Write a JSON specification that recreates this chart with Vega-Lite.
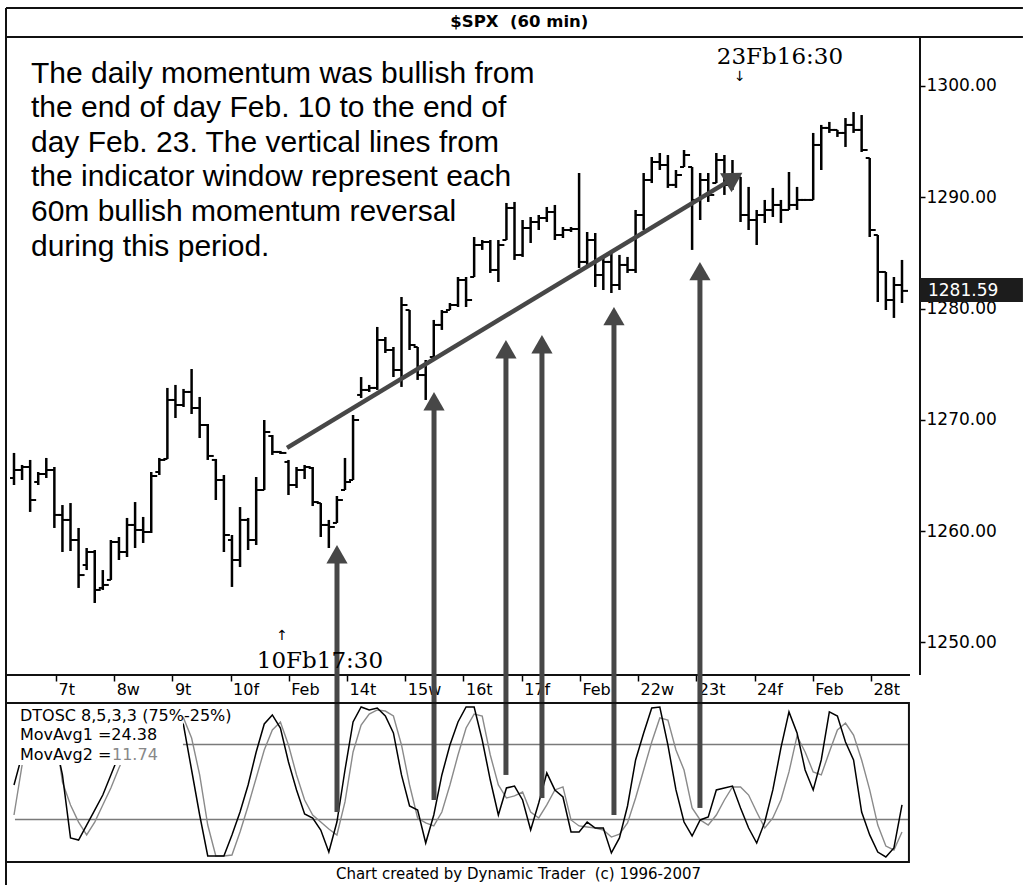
{
  "$schema": "https://vega.github.io/schema/vega-lite/v6.json",
  "background": "white",
  "width": 914,
  "height": 638,
  "autosize": {"type": "none"},
  "padding": {"left": 6, "top": 37, "right": 103, "bottom": 210},
  "datasets": {
    "bars": [
      {"i":0,"o":1264.78,"h":1267.03,"l":1264.15,"c":1265.5},
      {"i":1,"o":1265.5,"h":1265.95,"l":1264.6,"c":1265.77},
      {"i":2,"o":1265.77,"h":1266.4,"l":1261.73,"c":1262.8},
      {"i":3,"o":1264.42,"h":1265.32,"l":1264.15,"c":1265.14},
      {"i":4,"o":1265.14,"h":1266.58,"l":1264.78,"c":1265.5},
      {"i":5,"o":1265.5,"h":1265.77,"l":1260.29,"c":1261.46},
      {"i":6,"o":1261.46,"h":1262.35,"l":1258.13,"c":1261.01},
      {"i":7,"o":1261.01,"h":1262.53,"l":1258.22,"c":1259.21},
      {"i":8,"o":1259.21,"h":1260.29,"l":1254.9,"c":1256.06},
      {"i":9,"o":1256.96,"h":1258.49,"l":1256.51,"c":1258.13},
      {"i":10,"o":1258.13,"h":1258.31,"l":1253.55,"c":1254.72},
      {"i":11,"o":1254.9,"h":1256.51,"l":1254.72,"c":1255.17},
      {"i":12,"o":1255.62,"h":1259.21,"l":1255.62,"c":1259.03},
      {"i":13,"o":1259.03,"h":1259.48,"l":1257.41,"c":1258.13},
      {"i":14,"o":1258.13,"h":1261.19,"l":1257.68,"c":1260.56},
      {"i":15,"o":1260.56,"h":1262.62,"l":1258.49,"c":1260.11},
      {"i":16,"o":1260.11,"h":1261.28,"l":1258.94,"c":1259.93},
      {"i":17,"o":1259.93,"h":1265.32,"l":1259.84,"c":1264.96},
      {"i":18,"o":1265.32,"h":1266.58,"l":1265.05,"c":1266.4},
      {"i":19,"o":1266.49,"h":1272.87,"l":1266.49,"c":1271.79},
      {"i":20,"o":1271.79,"h":1273.14,"l":1270.17,"c":1271.34},
      {"i":21,"o":1271.34,"h":1272.78,"l":1271.16,"c":1272.51},
      {"i":22,"o":1272.51,"h":1274.57,"l":1270.53,"c":1271.07},
      {"i":23,"o":1271.07,"h":1272.06,"l":1268.37,"c":1269.54},
      {"i":24,"o":1269.54,"h":1269.63,"l":1266.4,"c":1266.76},
      {"i":25,"o":1266.4,"h":1266.49,"l":1262.8,"c":1264.6},
      {"i":26,"o":1264.6,"h":1265.05,"l":1258.13,"c":1259.66},
      {"i":27,"o":1259.21,"h":1259.66,"l":1254.99,"c":1257.41},
      {"i":28,"o":1257.41,"h":1262.17,"l":1256.78,"c":1261.01},
      {"i":29,"o":1261.01,"h":1261.19,"l":1258.31,"c":1259.21},
      {"i":30,"o":1259.21,"h":1264.87,"l":1258.76,"c":1263.7},
      {"i":31,"o":1263.7,"h":1269.99,"l":1263.7,"c":1268.91},
      {"i":32,"o":1268.55,"h":1268.64,"l":1266.85,"c":1267.12},
      {"i":33,"o":1267.12,"h":1267.21,"l":1266.94,"c":1267.03},
      {"i":34,"o":1266.22,"h":1266.4,"l":1263.25,"c":1264.15},
      {"i":35,"o":1264.15,"h":1265.77,"l":1263.88,"c":1265.5},
      {"i":36,"o":1265.5,"h":1265.95,"l":1264.69,"c":1265.77},
      {"i":37,"o":1265.68,"h":1265.77,"l":1262.26,"c":1262.62},
      {"i":38,"o":1262.53,"h":1262.53,"l":1259.48,"c":1260.56},
      {"i":39,"o":1260.56,"h":1261.01,"l":1258.49,"c":1260.38},
      {"i":40,"o":1260.74,"h":1263.16,"l":1260.74,"c":1262.8},
      {"i":41,"o":1263.7,"h":1266.58,"l":1263.7,"c":1264.42},
      {"i":42,"o":1264.6,"h":1270.44,"l":1264.6,"c":1269.99},
      {"i":43,"o":1272.24,"h":1273.85,"l":1271.97,"c":1272.69},
      {"i":44,"o":1272.69,"h":1273.14,"l":1272.51,"c":1272.87},
      {"i":45,"o":1272.87,"h":1278.35,"l":1272.69,"c":1277.18},
      {"i":46,"o":1277.18,"h":1277.45,"l":1276.01,"c":1276.28},
      {"i":47,"o":1276.28,"h":1276.55,"l":1273.85,"c":1274.48},
      {"i":48,"o":1274.48,"h":1281.04,"l":1272.96,"c":1280.32},
      {"i":49,"o":1279.87,"h":1279.87,"l":1276.28,"c":1276.73},
      {"i":50,"o":1276.55,"h":1276.55,"l":1273.59,"c":1274.03},
      {"i":51,"o":1274.03,"h":1275.38,"l":1271.79,"c":1275.2},
      {"i":52,"o":1275.65,"h":1278.98,"l":1275.65,"c":1278.53},
      {"i":53,"o":1278.53,"h":1279.87,"l":1278.08,"c":1279.69},
      {"i":54,"o":1279.87,"h":1280.5,"l":1279.87,"c":1280.32},
      {"i":55,"o":1280.32,"h":1282.84,"l":1280.14,"c":1282.57},
      {"i":56,"o":1282.57,"h":1282.84,"l":1280.14,"c":1280.77},
      {"i":57,"o":1282.84,"h":1286.43,"l":1282.84,"c":1285.71},
      {"i":58,"o":1285.71,"h":1286.16,"l":1285.27,"c":1285.98},
      {"i":59,"o":1285.98,"h":1286.16,"l":1283.2,"c":1283.47},
      {"i":60,"o":1283.47,"h":1286.16,"l":1282.39,"c":1285.71},
      {"i":61,"o":1286.16,"h":1289.49,"l":1286.16,"c":1289.04},
      {"i":62,"o":1289.04,"h":1289.58,"l":1284.37,"c":1284.82},
      {"i":63,"o":1284.82,"h":1287.96,"l":1284.64,"c":1287.24},
      {"i":64,"o":1287.24,"h":1288.23,"l":1285.89,"c":1287.78},
      {"i":65,"o":1287.78,"h":1288.41,"l":1287.06,"c":1288.14},
      {"i":66,"o":1288.14,"h":1289.13,"l":1287.78,"c":1288.68},
      {"i":67,"o":1288.68,"h":1289.31,"l":1286.16,"c":1286.61},
      {"i":68,"o":1286.61,"h":1287.33,"l":1286.34,"c":1287.06},
      {"i":69,"o":1287.06,"h":1287.33,"l":1286.88,"c":1287.15},
      {"i":70,"o":1287.15,"h":1292.18,"l":1283.65,"c":1284.19},
      {"i":71,"o":1284.19,"h":1286.88,"l":1283.92,"c":1286.16},
      {"i":72,"o":1286.16,"h":1286.79,"l":1281.94,"c":1283.02},
      {"i":73,"o":1283.02,"h":1284.64,"l":1281.67,"c":1284.19},
      {"i":74,"o":1284.19,"h":1285.09,"l":1281.4,"c":1282.12},
      {"i":75,"o":1282.12,"h":1284.82,"l":1281.67,"c":1283.92},
      {"i":76,"o":1283.92,"h":1284.64,"l":1283.2,"c":1283.47},
      {"i":77,"o":1283.47,"h":1288.86,"l":1283.2,"c":1288.41},
      {"i":78,"o":1288.41,"h":1292.18,"l":1287.06,"c":1291.55},
      {"i":79,"o":1291.55,"h":1293.62,"l":1291.28,"c":1293.17},
      {"i":80,"o":1293.17,"h":1293.98,"l":1292.45,"c":1292.9},
      {"i":81,"o":1292.9,"h":1293.8,"l":1290.84,"c":1291.11},
      {"i":82,"o":1291.11,"h":1292.45,"l":1290.84,"c":1292.0},
      {"i":83,"o":1292.72,"h":1294.25,"l":1292.72,"c":1293.8},
      {"i":84,"o":1292.72,"h":1292.72,"l":1285.27,"c":1289.76},
      {"i":85,"o":1289.76,"h":1292.18,"l":1287.96,"c":1291.55},
      {"i":86,"o":1291.55,"h":1292.18,"l":1289.58,"c":1290.21},
      {"i":87,"o":1291.28,"h":1293.98,"l":1291.28,"c":1293.35},
      {"i":88,"o":1293.35,"h":1293.8,"l":1290.21,"c":1291.11},
      {"i":89,"o":1291.11,"h":1293.35,"l":1290.66,"c":1292.0},
      {"i":90,"o":1291.82,"h":1291.82,"l":1287.78,"c":1288.41},
      {"i":91,"o":1288.41,"h":1290.93,"l":1287.06,"c":1287.96},
      {"i":92,"o":1287.96,"h":1288.86,"l":1285.71,"c":1288.41},
      {"i":93,"o":1288.41,"h":1289.76,"l":1287.69,"c":1288.86},
      {"i":94,"o":1288.86,"h":1290.84,"l":1288.23,"c":1289.31},
      {"i":95,"o":1289.31,"h":1289.76,"l":1287.69,"c":1288.86},
      {"i":96,"o":1288.86,"h":1292.27,"l":1288.86,"c":1289.31},
      {"i":97,"o":1289.31,"h":1290.93,"l":1288.86,"c":1289.76},
      {"i":98,"o":1289.76,"h":1289.85,"l":1289.67,"c":1289.76},
      {"i":99,"o":1289.76,"h":1295.78,"l":1289.76,"c":1294.7},
      {"i":100,"o":1294.7,"h":1296.5,"l":1292.45,"c":1296.23},
      {"i":101,"o":1296.23,"h":1296.77,"l":1295.78,"c":1296.05},
      {"i":102,"o":1296.05,"h":1296.05,"l":1295.42,"c":1295.78},
      {"i":103,"o":1295.78,"h":1297.12,"l":1294.52,"c":1296.5},
      {"i":104,"o":1296.5,"h":1297.66,"l":1295.78,"c":1296.05},
      {"i":105,"o":1296.05,"h":1297.39,"l":1294.07,"c":1294.25},
      {"i":106,"o":1293.53,"h":1293.53,"l":1286.43,"c":1287.06},
      {"i":107,"o":1286.61,"h":1286.61,"l":1280.59,"c":1283.29},
      {"i":108,"o":1283.29,"h":1283.29,"l":1279.87,"c":1280.77},
      {"i":109,"o":1280.77,"h":1282.84,"l":1279.16,"c":1282.12},
      {"i":110,"o":1282.12,"h":1284.37,"l":1280.5,"c":1281.59}
    ],
    "osc": [
      {"i":0,"f":48,"s":28},{"i":1,"f":68,"s":61.3},{"i":2,"f":88,"s":80},{"i":3,"f":97,"s":92},{"i":4,"f":95,"s":97},
      {"i":5,"f":80,"s":88},{"i":6,"f":54.7,"s":50},{"i":7,"f":12.7,"s":34.7},{"i":8,"f":11.3,"s":23.3},{"i":9,"f":21.3,"s":14.7},
      {"i":10,"f":31.3,"s":23.3},{"i":11,"f":41.3,"s":34.7},{"i":12,"f":54.7,"s":46},{"i":13,"f":68,"s":59.3},{"i":14,"f":81.3,"s":71.3},
      {"i":15,"f":94.7,"s":84.7},{"i":16,"f":98,"s":92.7},{"i":17,"f":96.7,"s":96.7},{"i":18,"f":91.3,"s":96.7},{"i":19,"f":96.7,"s":95.3},
      {"i":20,"f":98,"s":96.7},{"i":21,"f":88,"s":92.7},{"i":22,"f":58,"s":79.3},{"i":23,"f":28,"s":54.7},{"i":24,"f":0.7,"s":21.3},
      {"i":25,"f":0.7,"s":0.7},{"i":26,"f":0.7,"s":0.7},{"i":27,"f":14.7,"s":1.3},{"i":28,"f":30,"s":16.7},{"i":29,"f":48,"s":34},
      {"i":30,"f":70,"s":52.7},{"i":31,"f":88.7,"s":71.3},{"i":32,"f":94.7,"s":84.7},{"i":33,"f":86,"s":90},{"i":34,"f":63.3,"s":74.7},
      {"i":35,"f":44.7,"s":54.7},{"i":36,"f":28.7,"s":38},{"i":37,"f":26,"s":28},{"i":38,"f":18,"s":23.3},{"i":39,"f":3.3,"s":18.7},
      {"i":40,"f":23.3,"s":14.7},{"i":41,"f":58,"s":36.7},{"i":42,"f":90,"s":70},{"i":43,"f":100,"s":88},{"i":44,"f":98,"s":95.3},
      {"i":45,"f":99.3,"s":98},{"i":46,"f":94,"s":97.3},{"i":47,"f":82.7,"s":94},{"i":48,"f":54.7,"s":74.7},{"i":49,"f":34,"s":48},
      {"i":50,"f":31.3,"s":26},{"i":51,"f":9.3,"s":22.7},{"i":52,"f":28,"s":20.7},{"i":53,"f":54.7,"s":30},{"i":54,"f":74.7,"s":48},
      {"i":55,"f":90,"s":68},{"i":56,"f":100,"s":86},{"i":57,"f":100,"s":95.3},{"i":58,"f":78,"s":94},{"i":59,"f":51.3,"s":68},
      {"i":60,"f":28,"s":48},{"i":61,"f":46,"s":39.3},{"i":62,"f":47.3,"s":40.7},{"i":63,"f":38,"s":43.3},{"i":64,"f":18,"s":30},
      {"i":65,"f":36,"s":26},{"i":66,"f":56,"s":34.7},{"i":67,"f":44.7,"s":44.7},{"i":68,"f":40,"s":46.7},{"i":69,"f":16.7,"s":24.7},
      {"i":70,"f":16.7,"s":20.7},{"i":71,"f":23.3,"s":20},{"i":72,"f":19.3,"s":19.3},{"i":73,"f":19.3,"s":18},{"i":74,"f":2.7,"s":13.3},
      {"i":75,"f":12.7,"s":15.3},{"i":76,"f":34,"s":22.7},{"i":77,"f":64.7,"s":39.3},{"i":78,"f":82.7,"s":58},{"i":79,"f":99.3,"s":76.7},
      {"i":80,"f":100,"s":92.7},{"i":81,"f":74.7,"s":91.3},{"i":82,"f":44.7,"s":71.3},{"i":83,"f":23.3,"s":58},{"i":84,"f":14,"s":32.7},
      {"i":85,"f":24.7,"s":24.7},{"i":86,"f":26.7,"s":21.3},{"i":87,"f":44.7,"s":28},{"i":88,"f":46,"s":38},{"i":89,"f":47.3,"s":46.7},
      {"i":90,"f":32.7,"s":46.7},{"i":91,"f":19.3,"s":41.3},{"i":92,"f":9.3,"s":30},{"i":93,"f":23.3,"s":19.3},{"i":94,"f":44.7,"s":26},
      {"i":95,"f":72.7,"s":38},{"i":96,"f":96.7,"s":56.7},{"i":97,"f":82.7,"s":80.7},{"i":98,"f":58,"s":70},{"i":99,"f":44.7,"s":56.7},
      {"i":100,"f":64.7,"s":54.7},{"i":101,"f":96.7,"s":70},{"i":102,"f":94,"s":84.7},{"i":103,"f":76.7,"s":89.3},{"i":104,"f":64.7,"s":81.3},
      {"i":105,"f":30,"s":64.7},{"i":106,"f":14.7,"s":44.7},{"i":107,"f":3.3,"s":21.3},{"i":108,"f":0,"s":7.3},{"i":109,"f":6,"s":4.7},
      {"i":110,"f":34.7,"s":16.7}
    ],
    "trend": [{"i":33.82,"p":1267.48},{"i":89.2,"p":1291.75}],
    "head": [{"i":89.2,"p":1291.75}],
    "varrows": [
      {"i":40.01,"p":1257.93,"v":30},
      {"i":52.03,"p":1271.68,"v":38},
      {"i":60.94,"p":1276.35,"v":54.7},
      {"i":65.4,"p":1276.8,"v":39.3},
      {"i":74.32,"p":1279.32,"v":28},
      {"i":84.97,"p":1283.36,"v":32.7}
    ],
    "note": [{"i":2.1,"p":1300.31,"t":"The daily momentum was bullish from\nthe end of day Feb. 10 to the end of\nday Feb. 23. The vertical lines from\nthe indicator window represent each\n60m bullish momentum reversal\nduring this period."}],
    "stamps": [{"i":94.88,"p":1301.98,"t":"23Fb16:30"},{"i":37.9,"p":1247.71,"t":"10Fb17:30"}],
    "pointers": [{"i":89.93,"p":1300.81,"t":"↓"},{"i":33.2,"p":1250.58,"t":"↑"}],
    "last": [{"i":113.22,"p":1281.59,"t":"1281.59"}],
    "heading": [{"i":62.6,"p":1305.75,"t":"$SPX\u00a0 (60 min)"}],
    "footer": [{"i":62.5,"p":1229.2,"t":"Chart created by Dynamic Trader\u00a0 (c) 1996-2007"}],
    "lvls": [{"v":75},{"v":25}],
    "box": [{"k":"frame"}],
    "osclab": [
      {"i":0.74,"v":94,"t":"DTOSC 8,5,3,3 (75%-25%)"},
      {"i":0.74,"v":81.3,"t":"MovAvg1 =24.38"},
      {"i":0.74,"v":68,"t":"MovAvg2 ="}
    ],
    "osclab2": [{"i":12.14,"v":68,"t":"11.74"}]
  },
  "resolve": {"scale": {"y": "independent"}, "axis": {"y": "independent"}},
  "layer": [
    {
      "layer": [
        {
          "data": {"name": "bars"},
          "mark": {"type": "rule", "color": "#000", "strokeWidth": 2.5},
          "encoding": {
            "x": {"field": "i", "type": "quantitative",
              "scale": {"domain": [-0.991, 112.23], "nice": false, "zero": false},
              "axis": {"orient": "bottom",
                "values": [5.2, 12.41, 19.62, 26.83, 34.04, 41.26, 48.47, 55.68, 62.89, 70.1, 77.31, 84.52, 91.73, 98.94, 106.15],
                "labelExpr": "['7t','8w','9t','10f','Feb','14t','15w','16t','17f','Feb','22w','23t','24f','Feb','28t'][round((datum.value - 5.2) / 7.2107)]",
                "title": null, "grid": false, "domain": false, "tickSize": 6, "tickWidth": 1.5, "tickColor": "#000",
                "labelFont": "DejaVu Sans", "labelFontSize": 16, "labelColor": "#000", "labelAlign": "left", "labelBaseline": "top",
                "labelPadding": 0, "labelOffset": 2, "labelFlush": false, "labelOverlap": false, "labelBound": false}},
            "y": {"field": "l", "type": "quantitative", "scale": {"domain": [1247.08, 1304.4], "nice": false, "zero": false},
              "axis": {"orient": "right", "values": [1250, 1260, 1270, 1280, 1290, 1300], "format": ".2f", "title": null, "grid": false, "domain": false,
                "tickSize": 5, "tickWidth": 1.5, "tickColor": "#000", "labelFont": "DejaVu Sans", "labelFontSize": 17, "labelColor": "#000",
                "labelPadding": 1, "labelAlign": "left", "labelBaseline": "middle", "labelFlush": false, "labelOverlap": false, "labelBound": false}},
            "y2": {"field": "h"}
          }
        },
        {
          "data": {"name": "bars"},
          "mark": {"type": "tick", "orient": "horizontal", "color": "#000", "size": 4, "thickness": 2, "xOffset": -2, "opacity": 1},
          "encoding": {
            "x": {"field": "i", "type": "quantitative", "scale": {"domain": [-0.991, 112.23], "nice": false, "zero": false}},
            "y": {"field": "o", "type": "quantitative", "scale": {"domain": [1247.08, 1304.4], "nice": false, "zero": false}}
          }
        },
        {
          "data": {"name": "bars"},
          "mark": {"type": "tick", "orient": "horizontal", "color": "#000", "size": 6, "thickness": 2, "xOffset": 3, "opacity": 1},
          "encoding": {
            "x": {"field": "i", "type": "quantitative", "scale": {"domain": [-0.991, 112.23], "nice": false, "zero": false}},
            "y": {"field": "c", "type": "quantitative", "scale": {"domain": [1247.08, 1304.4], "nice": false, "zero": false}}
          }
        },
        {
          "data": {"name": "box"},
          "mark": {"type": "rule", "color": "#111", "strokeWidth": 2},
          "encoding": {
            "x": {"datum": -0.991, "type": "quantitative", "scale": {"domain": [-0.991, 112.23], "nice": false, "zero": false}},
            "x2": {"datum": 124.98},
            "y": {"datum": 1307.01, "type": "quantitative", "scale": {"domain": [1247.08, 1304.4], "nice": false, "zero": false}}
          }
        },
        {
          "data": {"name": "box"},
          "mark": {"type": "rule", "color": "#111", "strokeWidth": 2},
          "encoding": {
            "x": {"datum": -0.991, "type": "quantitative", "scale": {"domain": [-0.991, 112.23], "nice": false, "zero": false}},
            "x2": {"datum": 124.98},
            "y": {"datum": 1304.4, "type": "quantitative", "scale": {"domain": [1247.08, 1304.4], "nice": false, "zero": false}}
          }
        },
        {
          "data": {"name": "box"},
          "mark": {"type": "rule", "color": "#111", "strokeWidth": 2},
          "encoding": {
            "x": {"datum": -0.991, "type": "quantitative", "scale": {"domain": [-0.991, 112.23], "nice": false, "zero": false}},
            "y": {"datum": 1307.01, "type": "quantitative", "scale": {"domain": [1247.08, 1304.4], "nice": false, "zero": false}},
            "y2": {"datum": 1228.21}
          }
        },
        {
          "data": {"name": "box"},
          "mark": {"type": "rule", "color": "#111", "strokeWidth": 2},
          "encoding": {
            "x": {"datum": 112.23, "type": "quantitative", "scale": {"domain": [-0.991, 112.23], "nice": false, "zero": false}},
            "y": {"datum": 1304.4, "type": "quantitative", "scale": {"domain": [1247.08, 1304.4], "nice": false, "zero": false}},
            "y2": {"datum": 1247.08}
          }
        },
        {
          "data": {"name": "box"},
          "mark": {"type": "rule", "color": "#111", "strokeWidth": 2},
          "encoding": {
            "x": {"datum": -0.991, "type": "quantitative", "scale": {"domain": [-0.991, 112.23], "nice": false, "zero": false}},
            "x2": {"datum": 110.99},
            "y": {"datum": 1247.08, "type": "quantitative", "scale": {"domain": [1247.08, 1304.4], "nice": false, "zero": false}}
          }
        },
        {
          "data": {"name": "trend"},
          "mark": {"type": "line", "color": "#474747", "strokeWidth": 4.5},
          "encoding": {
            "x": {"field": "i", "type": "quantitative", "scale": {"domain": [-0.991, 112.23], "nice": false, "zero": false}},
            "y": {"field": "p", "type": "quantitative", "scale": {"domain": [1247.08, 1304.4], "nice": false, "zero": false}}
          }
        },
        {
          "data": {"name": "head"},
          "mark": {"type": "point", "shape": "triangle-up", "angle": 58.9, "size": 500, "filled": true, "color": "#474747", "opacity": 1},
          "encoding": {
            "x": {"field": "i", "type": "quantitative", "scale": {"domain": [-0.991, 112.23], "nice": false, "zero": false}},
            "y": {"field": "p", "type": "quantitative", "scale": {"domain": [1247.08, 1304.4], "nice": false, "zero": false}}
          }
        },
        {
          "data": {"name": "varrows"},
          "mark": {"type": "rule", "color": "#474747", "strokeWidth": 5},
          "encoding": {
            "x": {"field": "i", "type": "quantitative", "scale": {"domain": [-0.991, 112.23], "nice": false, "zero": false}},
            "y": {"field": "p", "type": "quantitative", "scale": {"domain": [1247.08, 1304.4], "nice": false, "zero": false}},
            "y2": {"datum": 1244.56}
          }
        },
        {
          "data": {"name": "varrows"},
          "mark": {"type": "point", "shape": "triangle-up", "size": 450, "filled": true, "color": "#474747", "opacity": 1},
          "encoding": {
            "x": {"field": "i", "type": "quantitative", "scale": {"domain": [-0.991, 112.23], "nice": false, "zero": false}},
            "y": {"field": "p", "type": "quantitative", "scale": {"domain": [1247.08, 1304.4], "nice": false, "zero": false}}
          }
        },
        {
          "data": {"name": "note"},
          "mark": {"type": "text", "align": "left", "baseline": "alphabetic", "font": "Liberation Sans", "fontSize": 30, "lineBreak": "\n", "lineHeight": 34.6, "color": "#000"},
          "encoding": {
            "x": {"field": "i", "type": "quantitative", "scale": {"domain": [-0.991, 112.23], "nice": false, "zero": false}},
            "y": {"field": "p", "type": "quantitative", "scale": {"domain": [1247.08, 1304.4], "nice": false, "zero": false}},
            "text": {"field": "t", "type": "nominal"}
          }
        },
        {
          "data": {"name": "stamps"},
          "mark": {"type": "text", "align": "center", "baseline": "alphabetic", "font": "DejaVu Serif", "fontSize": 23, "color": "#000"},
          "encoding": {
            "x": {"field": "i", "type": "quantitative", "scale": {"domain": [-0.991, 112.23], "nice": false, "zero": false}},
            "y": {"field": "p", "type": "quantitative", "scale": {"domain": [1247.08, 1304.4], "nice": false, "zero": false}},
            "text": {"field": "t", "type": "nominal"}
          }
        },
        {
          "data": {"name": "pointers"},
          "mark": {"type": "text", "align": "center", "baseline": "middle", "font": "DejaVu Sans", "fontSize": 14, "color": "#000"},
          "encoding": {
            "x": {"field": "i", "type": "quantitative", "scale": {"domain": [-0.991, 112.23], "nice": false, "zero": false}},
            "y": {"field": "p", "type": "quantitative", "scale": {"domain": [1247.08, 1304.4], "nice": false, "zero": false}},
            "text": {"field": "t", "type": "nominal"}
          }
        },
        {
          "data": {"name": "last"},
          "mark": {"type": "rect", "color": "#1c1c1c", "opacity": 1},
          "encoding": {
            "x": {"datum": 112.23, "type": "quantitative", "scale": {"domain": [-0.991, 112.23], "nice": false, "zero": false}},
            "x2": {"datum": 124.98},
            "y": {"datum": 1280.59, "type": "quantitative", "scale": {"domain": [1247.08, 1304.4], "nice": false, "zero": false}},
            "y2": {"datum": 1282.75}
          }
        },
        {
          "data": {"name": "last"},
          "mark": {"type": "text", "align": "left", "baseline": "middle", "font": "DejaVu Sans", "fontSize": 17, "color": "#fff"},
          "encoding": {
            "x": {"field": "i", "type": "quantitative", "scale": {"domain": [-0.991, 112.23], "nice": false, "zero": false}},
            "y": {"field": "p", "type": "quantitative", "scale": {"domain": [1247.08, 1304.4], "nice": false, "zero": false}},
            "text": {"field": "t", "type": "nominal"}
          }
        },
        {
          "data": {"name": "heading"},
          "mark": {"type": "text", "align": "center", "baseline": "middle", "font": "DejaVu Sans", "fontWeight": "bold", "fontSize": 16.5, "color": "#000"},
          "encoding": {
            "x": {"field": "i", "type": "quantitative", "scale": {"domain": [-0.991, 112.23], "nice": false, "zero": false}},
            "y": {"field": "p", "type": "quantitative", "scale": {"domain": [1247.08, 1304.4], "nice": false, "zero": false}},
            "text": {"field": "t", "type": "nominal"}
          }
        },
        {
          "data": {"name": "footer"},
          "mark": {"type": "text", "align": "center", "baseline": "middle", "font": "DejaVu Sans", "fontSize": 15, "color": "#000"},
          "encoding": {
            "x": {"field": "i", "type": "quantitative", "scale": {"domain": [-0.991, 112.23], "nice": false, "zero": false}},
            "y": {"field": "p", "type": "quantitative", "scale": {"domain": [1247.08, 1304.4], "nice": false, "zero": false}},
            "text": {"field": "t", "type": "nominal"}
          }
        }
      ]
    },
    {
      "layer": [
        {
          "data": {"name": "lvls"},
          "mark": {"type": "rule", "color": "#7a7a7a", "strokeWidth": 1.5},
          "encoding": {
            "x": {"datum": 0.12, "type": "quantitative", "scale": {"domain": [-0.991, 112.23], "nice": false, "zero": false}},
            "x2": {"datum": 110.86},
            "y": {"field": "v", "type": "quantitative", "scale": {"domain": [121.33, 546.67], "nice": false, "zero": false}, "axis": null}
          }
        },
        {
          "data": {"name": "osc"},
          "mark": {"type": "line", "color": "#8a8a8a", "strokeWidth": 1.4},
          "encoding": {
            "x": {"field": "i", "type": "quantitative", "scale": {"domain": [-0.991, 112.23], "nice": false, "zero": false}},
            "y": {"field": "s", "type": "quantitative", "scale": {"domain": [121.33, 546.67], "nice": false, "zero": false}, "axis": null}
          }
        },
        {
          "data": {"name": "osc"},
          "mark": {"type": "line", "color": "#000", "strokeWidth": 1.5},
          "encoding": {
            "x": {"field": "i", "type": "quantitative", "scale": {"domain": [-0.991, 112.23], "nice": false, "zero": false}},
            "y": {"field": "f", "type": "quantitative", "scale": {"domain": [121.33, 546.67], "nice": false, "zero": false}, "axis": null}
          }
        },
        {
          "data": {"name": "varrows"},
          "mark": {"type": "rule", "color": "#474747", "strokeWidth": 5},
          "encoding": {
            "x": {"field": "i", "type": "quantitative", "scale": {"domain": [-0.991, 112.23], "nice": false, "zero": false}},
            "y": {"field": "v", "type": "quantitative", "scale": {"domain": [121.33, 546.67], "nice": false, "zero": false}, "axis": null},
            "y2": {"datum": 102.67}
          }
        },
        {
          "data": {"name": "box"},
          "mark": {"type": "rect", "color": "#fff", "opacity": 1},
          "encoding": {
            "x": {"datum": -0.991, "type": "quantitative", "scale": {"domain": [-0.991, 112.23], "nice": false, "zero": false}},
            "x2": {"datum": 20.93},
            "y": {"datum": 61.33, "type": "quantitative", "scale": {"domain": [121.33, 546.67], "nice": false, "zero": false}, "axis": null},
            "y2": {"datum": 102.67}
          }
        },
        {
          "data": {"name": "box"},
          "mark": {"type": "rect", "fill": "transparent", "stroke": "#111", "strokeWidth": 2, "opacity": 1},
          "encoding": {
            "x": {"datum": -0.991, "type": "quantitative", "scale": {"domain": [-0.991, 112.23], "nice": false, "zero": false}},
            "x2": {"datum": 110.86},
            "y": {"datum": -3.33, "type": "quantitative", "scale": {"domain": [121.33, 546.67], "nice": false, "zero": false}, "axis": null},
            "y2": {"datum": 102.67}
          }
        },
        {
          "data": {"name": "osclab"},
          "mark": {"type": "text", "align": "left", "baseline": "middle", "font": "DejaVu Sans", "fontSize": 16, "color": "#000"},
          "encoding": {
            "x": {"field": "i", "type": "quantitative", "scale": {"domain": [-0.991, 112.23], "nice": false, "zero": false}},
            "y": {"field": "v", "type": "quantitative", "scale": {"domain": [121.33, 546.67], "nice": false, "zero": false}, "axis": null},
            "text": {"field": "t", "type": "nominal"}
          }
        },
        {
          "data": {"name": "osclab2"},
          "mark": {"type": "text", "align": "left", "baseline": "middle", "font": "DejaVu Sans", "fontSize": 16, "color": "#888"},
          "encoding": {
            "x": {"field": "i", "type": "quantitative", "scale": {"domain": [-0.991, 112.23], "nice": false, "zero": false}},
            "y": {"field": "v", "type": "quantitative", "scale": {"domain": [121.33, 546.67], "nice": false, "zero": false}, "axis": null},
            "text": {"field": "t", "type": "nominal"}
          }
        }
      ]
    }
  ],
  "config": {
    "view": {"stroke": null},
    "axis": {"labelFont": "DejaVu Sans", "labelColor": "#000"}
  }
}
